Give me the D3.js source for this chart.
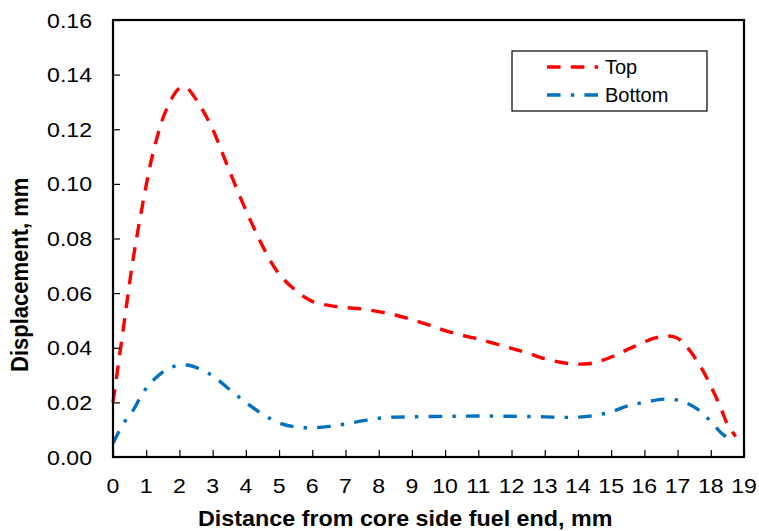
<!DOCTYPE html>
<html>
<head>
<meta charset="utf-8">
<script src="https://cdn.jsdelivr.net/npm/d3@7"></script>
<style>
  html, body { margin: 0; padding: 0; background: #fff; }
  svg { display: block; }
  text { font-family: "Liberation Sans", Arial, sans-serif; fill: #000; }
</style>
</head>
<body>
<svg id="chart" width="759" height="531"></svg>
<script>
// Axial displacement profiles along the fuel (distance in mm, displacement in mm)
const topX = [0, 0.3, 0.6, 0.9, 1.2, 1.6, 2.0, 2.2, 2.6, 3.0, 3.4, 3.8, 4.2, 4.6, 5.0, 5.5, 6.0, 6.5, 7.0, 7.5,
              8.0, 8.5, 9.0, 9.5, 10, 10.5, 11, 11.5, 12, 12.5, 13, 13.5, 14, 14.5, 15, 15.5, 16, 16.3, 16.7,
              17.0, 17.3, 17.7, 18.0, 18.3, 18.5, 18.75];
const topY = [0.020, 0.046, 0.072, 0.093, 0.111, 0.127, 0.1350, 0.1352, 0.129, 0.120, 0.108, 0.096, 0.085, 0.075,
              0.067, 0.061, 0.057, 0.0555, 0.0547, 0.0542, 0.0532, 0.0520, 0.0503, 0.0484, 0.0463, 0.0446,
              0.0432, 0.0415, 0.0398, 0.0380, 0.0360, 0.0346, 0.0340, 0.0345, 0.0366, 0.0394, 0.0421, 0.0435,
              0.0443, 0.0435, 0.0400, 0.0330, 0.0260, 0.0180, 0.0120, 0.0075];

const bottomX = [0, 0.3, 0.6, 0.9, 1.2, 1.7, 2.2, 2.7, 3.1, 3.6, 4.0, 4.5, 5.0, 5.5, 6.0, 6.5, 7.0, 7.5, 8.0,
                 8.5, 9, 10, 11, 12, 13, 13.5, 14, 14.5, 15, 15.5, 16, 16.6, 17.1, 17.6, 18.0, 18.3, 18.6];
const bottomY = [0.005, 0.012, 0.017, 0.0234, 0.028, 0.0326, 0.0337, 0.0318, 0.0288, 0.0238, 0.0200, 0.0157,
                 0.0125, 0.0110, 0.0107, 0.0112, 0.0121, 0.0132, 0.0142, 0.0146, 0.0147, 0.0149, 0.0150,
                 0.0149, 0.0147, 0.0145, 0.0146, 0.0152, 0.0165, 0.0187, 0.0200, 0.0212, 0.0205, 0.0175,
                 0.0130, 0.0090, 0.0062];

const xTicks = d3.range(0, 20);
const yTicks = [0, 0.02, 0.04, 0.06, 0.08, 0.10, 0.12, 0.14, 0.16];
const seriesNames = ["Top", "Bottom"];

const svg = d3.select("#chart");
const plot = { left: 113, right: 744, top: 20, bottom: 457 };

const x = d3.scaleLinear().domain([0, 19]).range([plot.left, plot.right]);
const y = d3.scaleLinear().domain([0, 0.16]).range([plot.bottom, plot.top]);

const series = [
  { name: seriesNames[0], xs: topX, ys: topY, color: "#FF0000", dash: "13.6,10.2" },
  { name: seriesNames[1], xs: bottomX, ys: bottomY, color: "#0070C0", dash: "13.6,10.2,3.4,10.2" }
];

const line = d3.line()
  .x(d => x(d[0]))
  .y(d => y(d[1]))
  .curve(d3.curveCatmullRom.alpha(0.5));

// data curves
series.forEach(s => {
  svg.append("path")
    .datum(d3.zip(s.xs, s.ys))
    .attr("d", line)
    .attr("fill", "none")
    .attr("stroke", s.color)
    .attr("stroke-width", 3.4)
    .attr("stroke-dasharray", s.dash);
});

// axes with inward ticks
const xAxis = svg.append("g")
  .attr("transform", `translate(0,${plot.bottom})`)
  .call(d3.axisBottom(x).tickValues(xTicks).tickSizeInner(-7).tickSizeOuter(0).tickFormat(""));
const yAxis = svg.append("g")
  .attr("transform", `translate(${plot.left},0)`)
  .call(d3.axisLeft(y).tickValues(yTicks).tickSizeInner(-7).tickSizeOuter(0).tickFormat(""));
[xAxis, yAxis].forEach(g => {
  g.select(".domain").remove();
  g.selectAll(".tick line").attr("stroke", "#000").attr("stroke-width", 1.2);
});

// plot frame
svg.append("rect")
  .attr("x", plot.left).attr("y", plot.top)
  .attr("width", plot.right - plot.left).attr("height", plot.bottom - plot.top)
  .attr("fill", "none").attr("stroke", "#000").attr("stroke-width", 2.2);

// tick labels
svg.append("g").selectAll("text")
  .data(xTicks).join("text")
  .attr("transform", d => `translate(${x(d)},493) scale(1.1,1)`)
  .attr("text-anchor", "middle")
  .attr("font-size", 21)
  .text(d => d);

svg.append("g").selectAll("text")
  .data(yTicks).join("text")
  .attr("transform", d => `translate(92,${y(d)}) scale(1.1,1)`)
  .attr("text-anchor", "end")
  .attr("dy", "0.36em")
  .attr("font-size", 21)
  .text(d => d3.format(".2f")(d));

// axis titles
svg.append("text")
  .attr("transform", "translate(198,525.5) scale(1.06,1)")
  .attr("font-size", 22)
  .attr("font-weight", "bold")
  .text("Distance from core side fuel end, mm");

svg.append("text")
  .attr("transform", "translate(28,372) scale(1.06,1) rotate(-90)")
  .attr("font-size", 22)
  .attr("font-weight", "bold")
  .text("Displacement, mm");

// legend
const legend = svg.append("g");
legend.append("rect")
  .attr("x", 512).attr("y", 51).attr("width", 195).attr("height", 60)
  .attr("fill", "#fff").attr("stroke", "#000").attr("stroke-width", 1.2);
series.forEach((s, i) => {
  const ly = 67 + i * 28;
  legend.append("line")
    .attr("x1", 547).attr("x2", 598).attr("y1", ly).attr("y2", ly)
    .attr("stroke", s.color).attr("stroke-width", 3.4)
    .attr("stroke-dasharray", s.dash);
  legend.append("text")
    .attr("x", 605).attr("y", ly).attr("dy", "0.36em")
    .attr("font-size", 20)
    .text(s.name);
});
</script>
</body>
</html>
